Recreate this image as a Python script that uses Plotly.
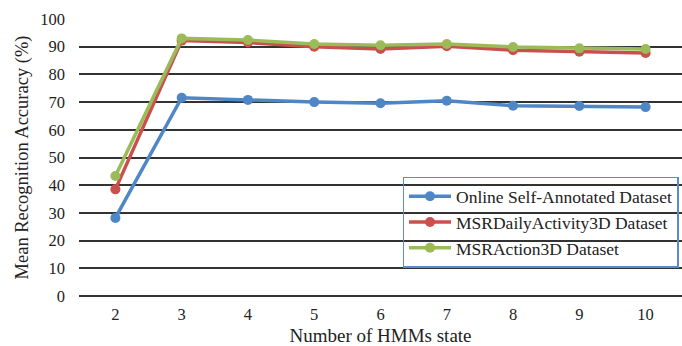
import plotly.graph_objects as go

states = ["2", "3", "4", "5", "6", "7", "8", "9", "10"]
online_self_annotated = [28.2, 71.6, 70.8, 70.0, 69.6, 70.5, 68.7, 68.6, 68.2]
msr_daily_activity = [38.5, 92.2, 91.5, 90.0, 89.2, 90.2, 88.7, 88.2, 87.7]
msr_action = [43.3, 93.0, 92.4, 91.0, 90.5, 91.0, 89.9, 89.4, 89.2]
y_ticks = [0, 10, 20, 30, 40, 50, 60, 70, 80, 90, 100]

series = [
    ("Online Self-Annotated Dataset", online_self_annotated, "#4F86C6"),
    ("MSRDailyActivity3D Dataset", msr_daily_activity, "#C9504D"),
    ("MSRAction3D Dataset", msr_action, "#9BBB59"),
]

fig = go.Figure()
for i, (name, vals, color) in enumerate(series):
    fig.add_trace(go.Scatter(
        x=states, y=vals, name=name, mode="lines+markers",
        line=dict(color=color, width=3.5),
        marker=dict(color=color, size=10),
    ))

font_family = "Liberation Serif, Times New Roman, serif"
fig.update_layout(
    width=682, height=346,
    margin=dict(l=79, r=0, t=19, b=50),
    paper_bgcolor="white", plot_bgcolor="white",
    font=dict(family=font_family, size=16.5, color="#222222"),
    showlegend=True,
    legend=dict(
        x=0.5365, y=0.43, xanchor="left", yanchor="top",
        bgcolor="rgba(0,0,0,0)",
        bordercolor="#5B8BC9", borderwidth=1.5,
        font=dict(family=font_family, size=17.5, color="#222222"),
        traceorder="normal",
        itemwidth=42,
    ),
    xaxis=dict(
        type="category", categoryorder="array", categoryarray=states,
        showgrid=False, showline=False, zeroline=False, ticks="",
        title=dict(text="Number of HMMs state", font=dict(size=19), standoff=6),
        tickfont=dict(size=16.5), ticklabelstandoff=6,
    ),
    yaxis=dict(
        range=[0, 100], tickvals=y_ticks, showgrid=True,
        gridcolor="#333333", gridwidth=1.5,
        zeroline=True, zerolinecolor="#333333", zerolinewidth=1.5,
        showline=False,
        ticks="", tickfont=dict(size=16.5), ticklabelstandoff=13,
        title=dict(text="Mean Recognition Accuracy (%)", font=dict(size=18.5), standoff=6),
    ),
)

fig.write_html("out.html", config={"displayModeBar": False},
               post_script="document.body.style.margin='0';")
